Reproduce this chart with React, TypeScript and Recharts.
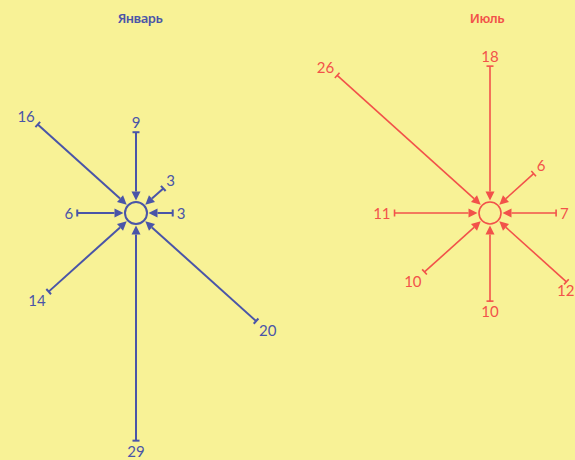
import React from 'react';
import { RadarChart, Radar, PolarAngleAxis, PolarRadiusAxis } from 'recharts';

// Wind directions, clockwise from north, and the bearing each is drawn at
const directions = ['С', 'СВ', 'В', 'ЮВ', 'Ю', 'ЮЗ', 'З', 'СЗ'];
const bearings = [0, 48, 90, 132, 180, 228, 270, 312];
// Wind frequency (%) by direction
const january = [9, 3, 3, 20, 29, 14, 6, 16];
const july = [18, 6, 7, 12, 10, 10, 11, 26];

const roseData = directions.map((dir, i) => ({ dir, deg: bearings[i], jan: january[i], jul: july[i] }));

const BLUE = '#4a55a8';
const RED = '#f2524a';
const BG = '#f8f296';

const W = 575;
const H = 460;
const RING = 11;

const makeRose = (color: string, width: number) => (props: any) => {
  const pts = props.points || [];
  if (!pts.length) return <g />;
  const { cx, cy } = pts[0];
  return (
    <g>
      <circle cx={cx} cy={cy} r={RING} fill="none" stroke={color} strokeWidth={width} />
      {pts.map((p: any, i: number) => {
        const dx = p.x - cx;
        const dy = p.y - cy;
        const len = Math.hypot(dx, dy) || 1;
        const ux = dx / len;
        const uy = dy / len;
        const px = -uy;
        const py = ux;
        const tip = RING + 1.5;
        const head = 9;
        const tx = cx + ux * tip;
        const ty = cy + uy * tip;
        const bx = cx + ux * (tip + head);
        const by = cy + uy * (tip + head);
        const gap = 4;
        const anchor = ux > 0.3 ? 'start' : ux < -0.3 ? 'end' : 'middle';
        const base = uy < -0.3 ? 'auto' : uy > 0.3 ? 'hanging' : 'central';
        // keep labels inside the picture
        const textW = String(p.value).length * 8.5;
        let lx = p.x + ux * gap;
        if (anchor === 'start') lx = Math.min(lx, W - textW - 1);
        return (
          <g key={i}>
            <line x1={p.x} y1={p.y} x2={bx} y2={by} stroke={color} strokeWidth={width} />
            <polygon
              points={`${tx},${ty} ${bx + px * 4.5},${by + py * 4.5} ${bx - px * 4.5},${by - py * 4.5}`}
              fill={color}
            />
            <line
              x1={p.x + px * 3.5} y1={p.y + py * 3.5}
              x2={p.x - px * 3.5} y2={p.y - py * 3.5}
              stroke={color} strokeWidth={width}
            />
            <text
              x={lx}
              y={p.y + uy * gap}
              textAnchor={anchor}
              dominantBaseline={base}
              fill={color}
              fontSize={15}
              fontFamily="Lato, sans-serif"
            >
              {p.value}
            </text>
          </g>
        );
      })}
    </g>
  );
};

const chartStyle: React.CSSProperties = { position: 'absolute', left: 0, top: 0 };

const RoseChart: React.FC<{ dataKey: string; cx: number; cy: number; color: string; width: number }> = ({ dataKey, cx, cy, color, width }) => (
  <div style={chartStyle}>
    <RadarChart
      width={W}
      height={H}
      data={roseData}
      cx={cx}
      cy={cy}
      innerRadius={0}
      outerRadius={235}
      margin={{ top: 0, right: 0, bottom: 0, left: 0 }}
    >
      <PolarAngleAxis dataKey="deg" type="number" domain={[0, 360]} tick={false} axisLine={false} tickLine={false} />
      <PolarRadiusAxis domain={[-2, 30]} tick={false} axisLine={false} tickLine={false} />
      <Radar dataKey={dataKey} isAnimationActive={false} dot={false} shape={makeRose(color, width)} />
    </RadarChart>
  </div>
);

const titleStyle: React.CSSProperties = {
  position: 'absolute',
  top: 9,
  width: 120,
  textAlign: 'center',
  fontFamily: '"Noto Sans", sans-serif',
  fontSize: 13,
  fontWeight: 600,
  letterSpacing: -0.5,
};

export default function App() {
  return (
    <div style={{ position: 'absolute', left: 0, top: 0, width: W, height: H, background: BG, overflow: 'hidden' }}>
      <div style={{ ...titleStyle, left: 80, color: BLUE }}>Январь</div>
      <div style={{ ...titleStyle, left: 427, color: RED }}>Июль</div>
      <RoseChart dataKey="jan" cx={136} cy={213} color={BLUE} width={2} />
      <RoseChart dataKey="jul" cx={490} cy={213} color={RED} width={1.6} />
    </div>
  );
}
